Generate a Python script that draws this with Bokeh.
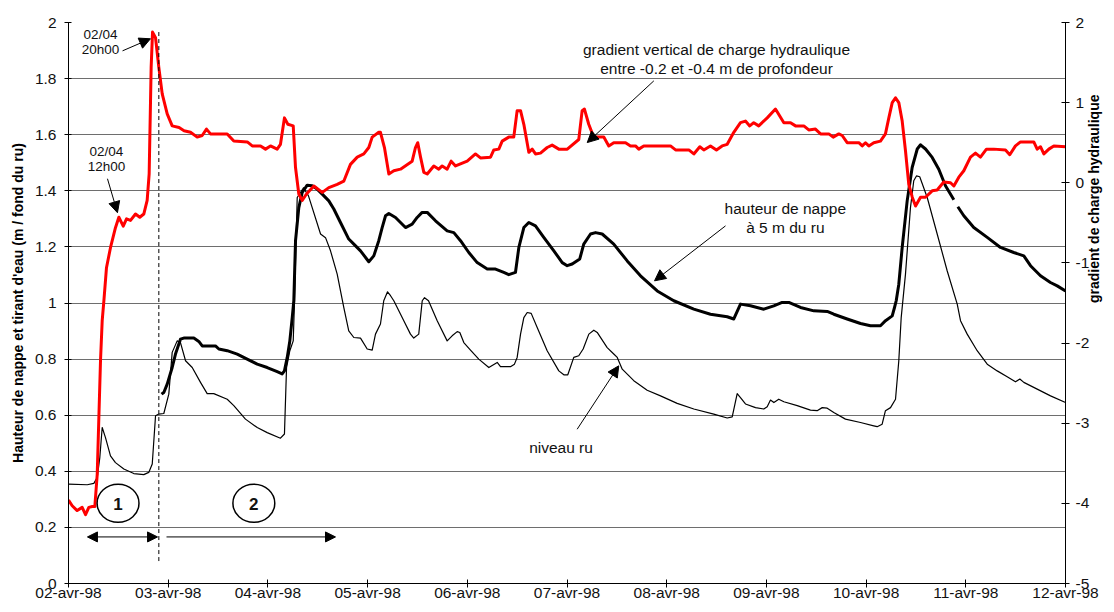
import math
from bokeh.plotting import figure
from bokeh.models import Range1d, LinearAxis, FixedTicker, Arrow, NormalHead, Label
from bokeh.embed import file_html
from bokeh.resources import INLINE

# ---------------- data ----------------
DAY_TICKS = [0, 1, 2, 3, 4, 5, 6, 7, 8, 9, 10]
DAY_LABELS = ["02-avr-98", "03-avr-98", "04-avr-98", "05-avr-98", "06-avr-98", "07-avr-98",
              "08-avr-98", "09-avr-98", "10-avr-98", "11-avr-98", "12-avr-98"]
LEFT_TICKS = [0, 0.2, 0.4, 0.6, 0.8, 1, 1.2, 1.4, 1.6, 1.8, 2]
LEFT_LABELS = ["0", "0.2", "0.4", "0.6", "0.8", "1", "1.2", "1.4", "1.6", "1.8", "2"]
RIGHT_TICKS = [-5, -4, -3, -2, -1, 0, 1, 2]
RIGHT_LABELS = ["-5", "-4", "-3", "-2", "-1", "0", "1", "2"]

# time in days since 02-avr-98 00h00
grad_t = [0.0, 0.037, 0.087, 0.137, 0.171, 0.204, 0.238, 0.264, 0.288, 0.321,
          0.338, 0.355, 0.381, 0.421, 0.471, 0.505, 0.549, 0.582, 0.622, 0.672,
          0.715, 0.755, 0.789, 0.809, 0.829, 0.843, 0.873, 0.906, 0.940, 0.990,
          1.040, 1.109, 1.159, 1.224, 1.291, 1.341, 1.384, 1.424, 1.592, 1.658,
          1.793, 1.843, 1.926, 1.976, 2.026, 2.093, 2.126, 2.166, 2.200, 2.254,
          2.277, 2.310, 2.344, 2.387, 2.461, 2.545, 2.611, 2.695, 2.761, 2.828,
          2.896, 2.962, 3.012, 3.046, 3.112, 3.129, 3.169, 3.213, 3.263, 3.330,
          3.447, 3.480, 3.503, 3.531, 3.564, 3.598, 3.664, 3.714, 3.748, 3.798,
          3.838, 3.882, 3.999, 4.082, 4.132, 4.233, 4.266, 4.316, 4.350, 4.416,
          4.466, 4.500, 4.534, 4.567, 4.617, 4.651, 4.684, 4.734, 4.801, 4.851,
          4.918, 5.003, 5.118, 5.152, 5.175, 5.218, 5.268, 5.369, 5.419, 5.469,
          5.587, 5.637, 5.687, 5.720, 5.770, 6.038, 6.089, 6.222, 6.272, 6.332,
          6.372, 6.439, 6.499, 6.556, 6.607, 6.673, 6.740, 6.790, 6.833, 6.873,
          6.923, 7.008, 7.091, 7.175, 7.242, 7.292, 7.375, 7.425, 7.492, 7.543,
          7.626, 7.670, 7.726, 7.760, 7.810, 7.927, 7.961, 7.994, 8.027, 8.077,
          8.144, 8.194, 8.228, 8.262, 8.295, 8.328, 8.362, 8.395, 8.428, 8.463,
          8.496, 8.546, 8.596, 8.663, 8.713, 8.779, 8.847, 8.880, 8.930, 8.980,
          9.047, 9.097, 9.147, 9.207, 9.281, 9.398, 9.441, 9.498, 9.549, 9.682,
          9.716, 9.749, 9.783, 9.833, 9.883, 10.0]
grad_v = [-3.96, -4.03, -4.09, -4.05, -4.14, -4.05, -4.04, -4.04, -3.64, -2.22,
          -1.72, -1.47, -1.06, -0.81, -0.56, -0.43, -0.54, -0.45, -0.47, -0.39,
          -0.43, -0.39, -0.22, 0.11, 1.44, 1.88, 1.81, 1.44, 1.11, 0.86,
          0.71, 0.69, 0.65, 0.63, 0.57, 0.59, 0.67, 0.61, 0.61, 0.52,
          0.51, 0.46, 0.46, 0.42, 0.46, 0.42, 0.48, 0.81, 0.73, 0.71,
          0.19, -0.14, -0.22, -0.14, -0.04, -0.12, -0.06, -0.02, 0.02, 0.23,
          0.32, 0.36, 0.44, 0.57, 0.63, 0.63, 0.44, 0.11, 0.15, 0.17,
          0.27, 0.44, 0.50, 0.32, 0.13, 0.11, 0.21, 0.17, 0.21, 0.17,
          0.27, 0.21, 0.27, 0.36, 0.31, 0.32, 0.41, 0.42, 0.52, 0.57,
          0.57, 0.90, 0.90, 0.73, 0.38, 0.42, 0.36, 0.37, 0.44, 0.47,
          0.42, 0.42, 0.54, 0.90, 0.92, 0.73, 0.57, 0.57, 0.46, 0.50,
          0.50, 0.46, 0.46, 0.42, 0.46, 0.46, 0.41, 0.41, 0.36, 0.45,
          0.41, 0.46, 0.41, 0.46, 0.48, 0.63, 0.75, 0.77, 0.71, 0.75,
          0.71, 0.81, 0.92, 0.75, 0.75, 0.71, 0.71, 0.66, 0.67, 0.61,
          0.61, 0.57, 0.61, 0.59, 0.50, 0.50, 0.46, 0.50, 0.46, 0.50,
          0.52, 0.61, 0.81, 1.00, 1.06, 1.00, 0.77, 0.40, -0.02, -0.18,
          -0.29, -0.18, -0.18, -0.10, -0.09, 0.01, 0.00, -0.04, 0.07, 0.15,
          0.32, 0.37, 0.32, 0.42, 0.42, 0.41, 0.35, 0.46, 0.51, 0.51,
          0.42, 0.45, 0.36, 0.42, 0.46, 0.45]

nappe_t = [0.933, 0.956, 0.990, 1.040, 1.073, 1.123, 1.156, 1.257, 1.307, 1.341,
           1.474, 1.508, 1.592, 1.692, 1.792, 1.893, 1.993, 2.093, 2.143, 2.166,
           2.194, 2.220, 2.244, 2.260, 2.277, 2.310, 2.344, 2.394, 2.444, 2.494,
           2.545, 2.611, 2.661, 2.728, 2.811, 2.862, 2.929, 3.012, 3.062, 3.112,
           3.146, 3.180, 3.213, 3.280, 3.380, 3.447, 3.497, 3.547, 3.598, 3.681,
           3.798, 3.865, 3.932, 4.015, 4.099, 4.200, 4.283, 4.366, 4.416, 4.483,
           4.517, 4.567, 4.617, 4.684, 4.767, 4.868, 4.952, 5.002, 5.052, 5.128,
           5.168, 5.236, 5.286, 5.353, 5.469, 5.604, 5.737, 5.905, 6.071, 6.272,
           6.439, 6.607, 6.673, 6.740, 6.840, 6.974, 7.074, 7.158, 7.225, 7.342,
           7.476, 7.610, 7.676, 7.810, 7.944, 8.044, 8.144, 8.195, 8.262, 8.285,
           8.302, 8.328, 8.362, 8.412, 8.462, 8.513, 8.546, 8.596, 8.663, 8.729,
           8.796, 8.880, 8.900, 8.920, 8.980, 9.080, 9.215, 9.348, 9.481, 9.582,
           9.649, 9.749, 9.849, 9.917, 10.0]
nappe_h = [0.675, 0.681, 0.711, 0.770, 0.818, 0.871, 0.875, 0.875, 0.863, 0.847,
           0.847, 0.836, 0.830, 0.818, 0.800, 0.782, 0.770, 0.755, 0.747, 0.758,
           0.806, 0.865, 0.948, 1.008, 1.222, 1.340, 1.394, 1.420, 1.418, 1.406,
           1.388, 1.364, 1.335, 1.287, 1.228, 1.210, 1.186, 1.147, 1.168, 1.222,
           1.269, 1.311, 1.319, 1.305, 1.269, 1.281, 1.305, 1.323, 1.323, 1.293,
           1.257, 1.251, 1.222, 1.180, 1.144, 1.121, 1.121, 1.109, 1.101, 1.109,
           1.198, 1.269, 1.287, 1.275, 1.234, 1.186, 1.144, 1.133, 1.139, 1.157,
           1.210, 1.246, 1.251, 1.246, 1.210, 1.150, 1.097, 1.043, 1.008, 0.978,
           0.960, 0.951, 0.943, 0.996, 0.990, 0.978, 0.990, 1.002, 1.002, 0.984,
           0.972, 0.970, 0.960, 0.943, 0.927, 0.919, 0.919, 0.937, 0.954, 0.984,
           1.008, 1.067, 1.198, 1.364, 1.483, 1.549, 1.564, 1.549, 1.519, 1.477,
           1.418, 1.368, float("nan"), 1.343, 1.311, 1.269, 1.234, 1.198, 1.180, 1.168,
           1.133, 1.097, 1.073, 1.061, 1.043]

ru_t = [0.0, 0.188, 0.254, 0.288, 0.314, 0.338, 0.371, 0.421, 0.471, 0.555,
        0.655, 0.755, 0.805, 0.840, 0.873, 0.906, 0.956, 1.006, 1.040, 1.090,
        1.123, 1.174, 1.241, 1.324, 1.391, 1.457, 1.592, 1.658, 1.775, 1.893,
        1.993, 2.126, 2.166, 2.187, 2.220, 2.254, 2.267, 2.294, 2.357, 2.407,
        2.528, 2.578, 2.628, 2.695, 2.761, 2.811, 2.862, 2.929, 2.996, 3.046,
        3.079, 3.129, 3.162, 3.200, 3.230, 3.263, 3.363, 3.430, 3.463, 3.513,
        3.548, 3.571, 3.611, 3.698, 3.798, 3.848, 3.899, 3.925, 3.965, 4.032,
        4.115, 4.216, 4.300, 4.333, 4.433, 4.473, 4.500, 4.534, 4.567, 4.601,
        4.641, 4.701, 4.801, 4.918, 4.968, 5.008, 5.068, 5.118, 5.162, 5.219,
        5.269, 5.303, 5.403, 5.469, 5.504, 5.554, 5.670, 5.804, 5.938, 6.105,
        6.272, 6.472, 6.607, 6.657, 6.707, 6.740, 6.790, 6.891, 6.974, 7.008,
        7.041, 7.075, 7.124, 7.175, 7.309, 7.442, 7.509, 7.560, 7.610, 7.676,
        7.793, 7.944, 8.077, 8.111, 8.161, 8.194, 8.245, 8.295, 8.328, 8.352,
        8.395, 8.445, 8.478, 8.505, 8.538, 8.613, 8.713, 8.813, 8.914, 8.947,
        9.014, 9.114, 9.215, 9.315, 9.415, 9.498, 9.542, 9.582, 9.716, 9.850,
        10.0]
ru_h = [0.354, 0.352, 0.357, 0.378, 0.449, 0.556, 0.520, 0.455, 0.431, 0.408,
        0.392, 0.388, 0.396, 0.426, 0.598, 0.604, 0.606, 0.675, 0.824, 0.865,
        0.859, 0.794, 0.770, 0.717, 0.677, 0.677, 0.657, 0.634, 0.586, 0.556,
        0.538, 0.518, 0.533, 0.770, 0.830, 0.865, 1.008, 1.376, 1.411, 1.382,
        1.246, 1.233, 1.186, 1.103, 0.984, 0.901, 0.877, 0.875, 0.836, 0.832,
        0.889, 0.925, 1.008, 1.040, 1.026, 1.008, 0.937, 0.889, 0.875, 0.889,
        1.008, 1.019, 1.008, 0.937, 0.865, 0.883, 0.898, 0.895, 0.859, 0.832,
        0.800, 0.770, 0.788, 0.773, 0.773, 0.782, 0.806, 0.889, 0.948, 0.966,
        0.963, 0.913, 0.830, 0.758, 0.744, 0.744, 0.806, 0.812, 0.836, 0.889,
        0.903, 0.895, 0.841, 0.818, 0.806, 0.764, 0.723, 0.689, 0.669, 0.642,
        0.622, 0.604, 0.590, 0.594, 0.677, 0.663, 0.640, 0.627, 0.622, 0.630,
        0.654, 0.645, 0.657, 0.648, 0.634, 0.618, 0.616, 0.627, 0.625, 0.610,
        0.586, 0.574, 0.562, 0.559, 0.568, 0.616, 0.627, 0.657, 0.794, 0.948,
        1.103, 1.340, 1.436, 1.453, 1.450, 1.376, 1.246, 1.115, 0.996, 0.937,
        0.889, 0.830, 0.782, 0.758, 0.737, 0.719, 0.729, 0.717, 0.693, 0.669,
        0.645]

FONT = "Liberation Sans"

# ---------------- figure ----------------
p = figure(width=1114, height=610, x_range=Range1d(0, 10), y_range=Range1d(0, 2),
           output_backend="svg", toolbar_location=None,
           min_border_left=68, min_border_right=49, min_border_top=22, min_border_bottom=27)
p.extra_y_ranges = {"right": Range1d(-5, 2)}
p.outline_line_color = None
p.background_fill_color = "white"
p.border_fill_color = "white"

p.xgrid.visible = False
p.ygrid.ticker = FixedTicker(ticks=LEFT_TICKS)
p.ygrid.grid_line_color = "#6e6e6e"
p.ygrid.grid_line_width = 1

def style_axis(ax):
    ax.axis_line_color = "black"
    ax.major_tick_line_color = "black"
    ax.minor_tick_line_color = None
    ax.major_tick_in = 4
    ax.major_tick_out = 4
    ax.major_label_text_font = FONT
    ax.major_label_text_font_size = "15.5px"
    ax.major_label_text_color = "#111111"

xa = p.xaxis[0]
style_axis(xa)
xa.ticker = FixedTicker(ticks=DAY_TICKS)
xa.major_label_overrides = dict(zip(DAY_TICKS, DAY_LABELS))
xa.major_label_standoff = -4

ya = p.yaxis[0]
style_axis(ya)
ya.major_tick_in = 3
ya.ticker = FixedTicker(ticks=LEFT_TICKS)
ya.major_label_overrides = dict(zip(LEFT_TICKS, LEFT_LABELS))
ya.major_label_standoff = 8
ya.axis_label = "Hauteur de nappe et tirant d'eau (m / fond du ru)"
ya.axis_label_text_font = FONT
ya.axis_label_text_font_style = "bold"
ya.axis_label_text_font_size = "14px"
ya.axis_label_text_color = "black"
ya.axis_label_standoff = 6

ra = LinearAxis(y_range_name="right", ticker=FixedTicker(ticks=RIGHT_TICKS))
style_axis(ra)
ra.major_label_overrides = dict(zip(RIGHT_TICKS, RIGHT_LABELS))
ra.major_label_standoff = 6
ra.axis_label = "gradient de charge hydraulique"
ra.axis_label_text_font = FONT
ra.axis_label_text_font_style = "bold"
ra.axis_label_text_font_size = "14px"
ra.axis_label_text_color = "black"
ra.axis_label_standoff = 2
try:
    ra.axis_label_orientation = math.pi / 2
except AttributeError:
    pass
p.add_layout(ra, "right")

# ---------------- series ----------------
p.line(ru_t, ru_h, line_color="black", line_width=1.2, line_join="round")
p.line(nappe_t, nappe_h, line_color="black", line_width=3, line_join="round")
p.line(grad_t, grad_v, line_color="#ff0000", line_width=3, line_join="round",
       y_range_name="right")

# ---------------- annotations ----------------
def txt(x, y, s, size="15.5px", style="normal"):
    p.add_layout(Label(x=x, y=y, text=s, text_font=FONT, text_font_size=size,
                       text_font_style=style, text_align="center", text_baseline="middle",
                       text_color="#111111"))

def arrow(x0, y0, x1, y1, both=False, size=11):
    head = NormalHead(size=size, fill_color="black", line_color="black")
    start = NormalHead(size=size, fill_color="black", line_color="black") if both else None
    p.add_layout(Arrow(start=start, end=head, x_start=x0, y_start=y0, x_end=x1, y_end=y1,
                       line_color="black", line_width=1))

txt(0.321, 1.956, "02/04", size="13.5px")
txt(0.321, 1.903, "20h00", size="13.5px")
arrow(0.542, 1.899, 0.822, 1.942)

txt(0.381, 1.539, "02/04", size="13.5px")
txt(0.381, 1.485, "12h00", size="13.5px")
arrow(0.391, 1.443, 0.491, 1.322)

txt(6.50, 1.903, "gradient vertical de charge hydraulique")
txt(6.50, 1.836, "entre -0.2 et -0.4 m de profondeur")
arrow(5.871, 1.792, 5.203, 1.572)

txt(7.19, 1.336, "hauteur de nappe")
txt(7.19, 1.269, "à 5 m du ru")
arrow(6.59, 1.275, 5.878, 1.079)

txt(4.94, 0.485, "niveau ru")
arrow(5.102, 0.550, 5.519, 0.776)

# event separator and phases
p.segment(x0=[0.906], y0=[0.08], x1=[0.906], y1=[1.97], line_color="black",
          line_width=1, line_dash="4 3")
p.ellipse(x=[0.497, 1.859], y=[0.286, 0.286], width=0.42, height=0.136,
          fill_color=None, line_color="black", line_width=1.5)
txt(0.497, 0.284, "1", size="17px", style="bold")
txt(1.859, 0.284, "2", size="17px", style="bold")
arrow(0.19, 0.166, 0.893, 0.166, both=True, size=10)
arrow(0.983, 0.166, 2.678, 0.166, size=10)

open("out.html", "w").write(file_html(p, INLINE))
